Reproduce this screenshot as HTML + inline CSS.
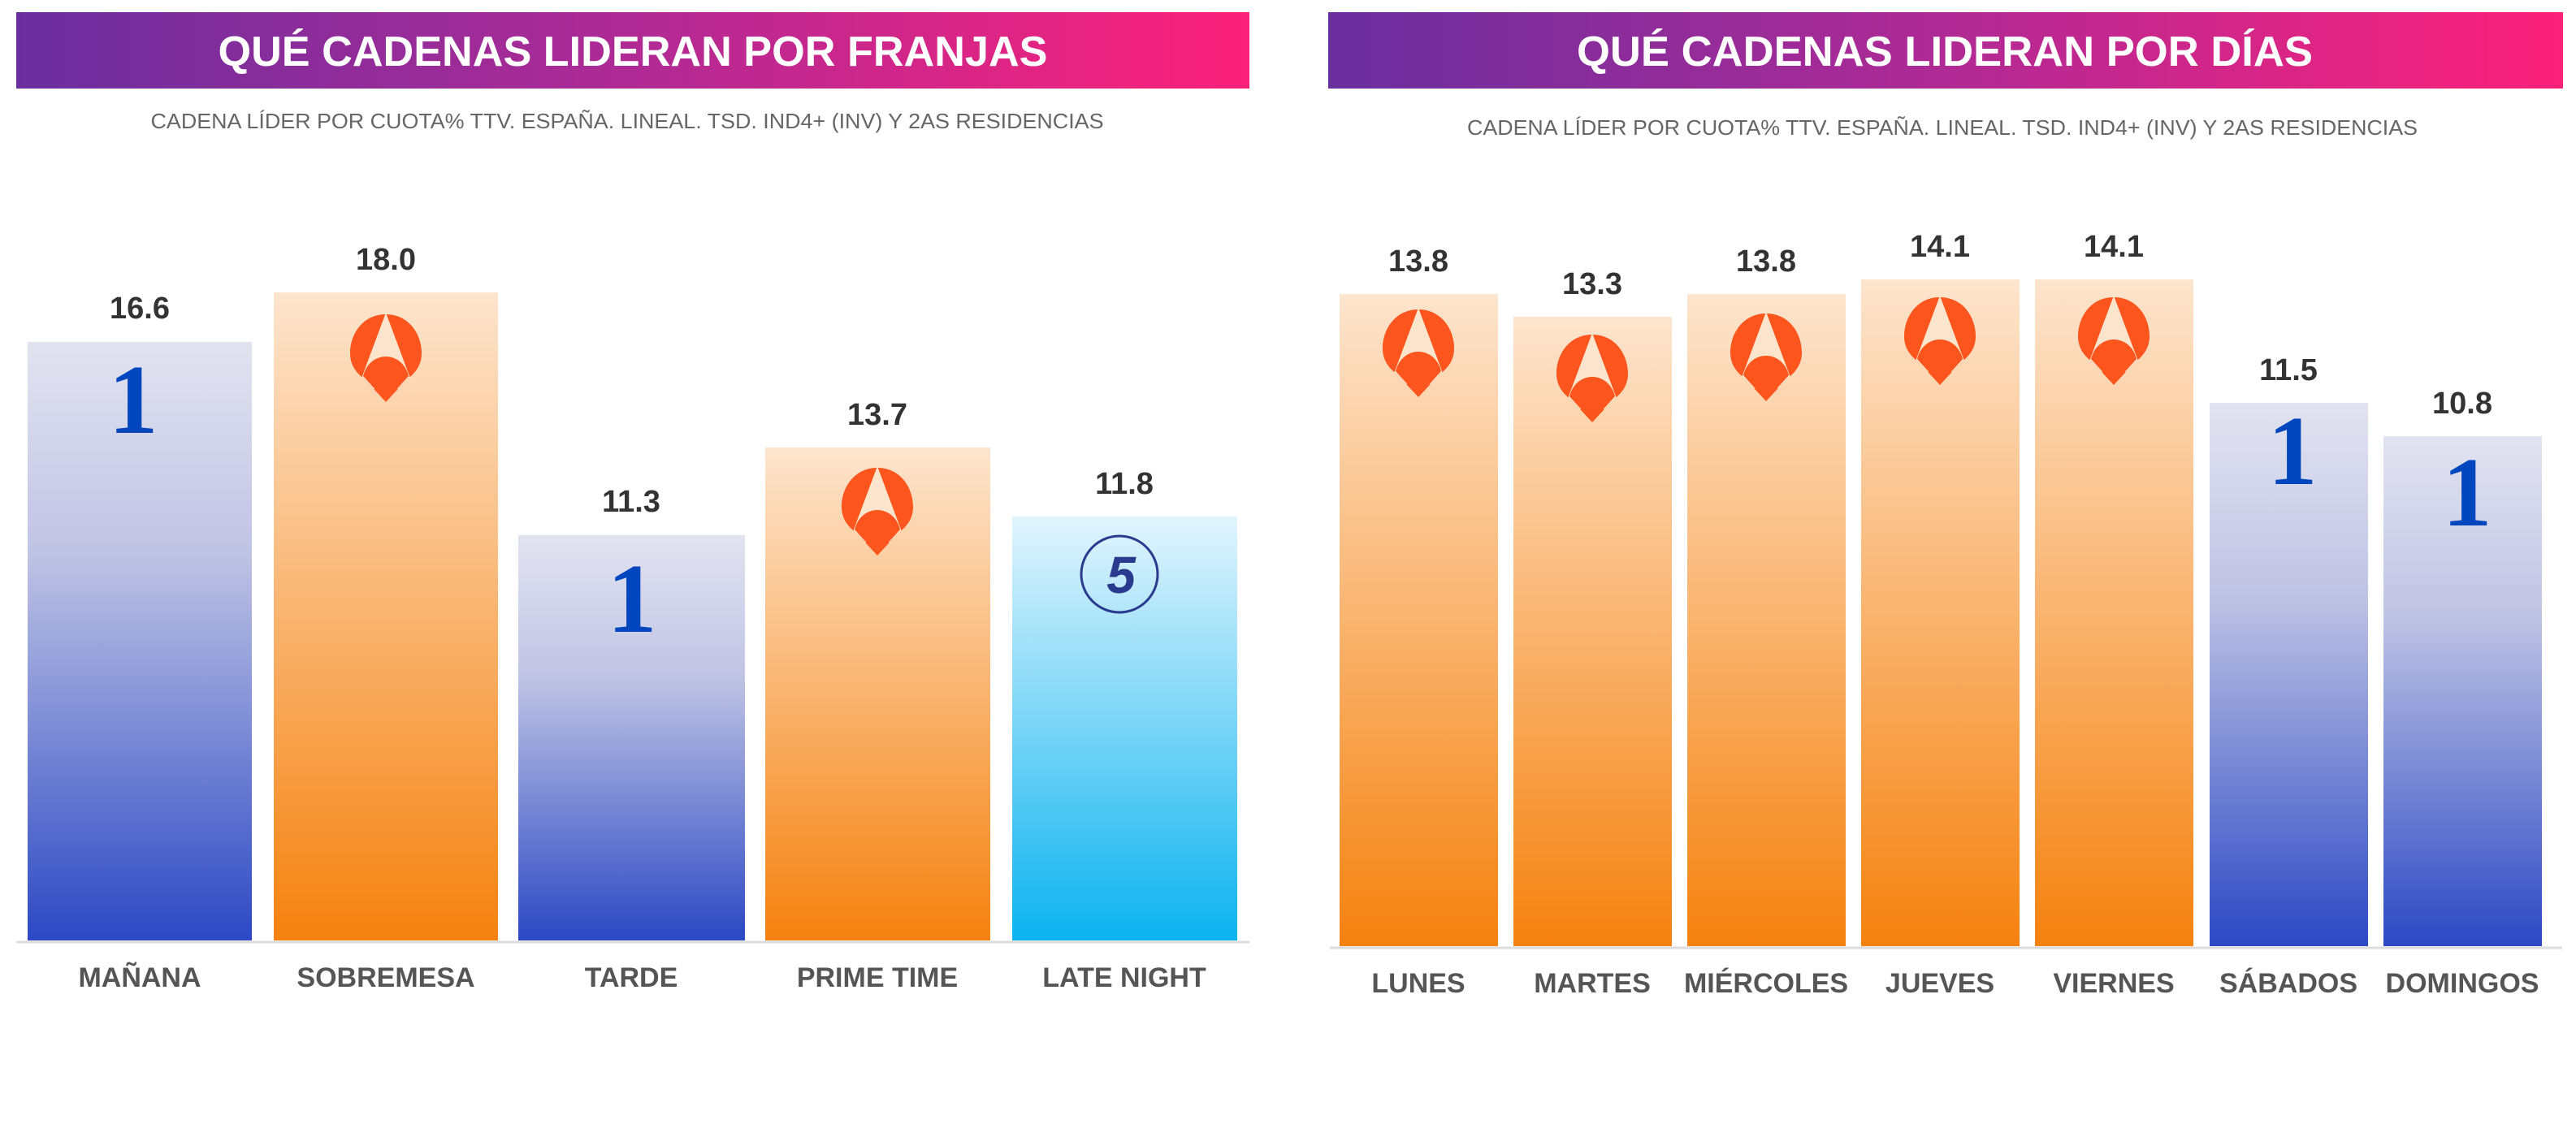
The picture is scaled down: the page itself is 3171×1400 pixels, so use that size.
<!DOCTYPE html>
<html><head><meta charset="utf-8"><style>html,body{margin:0;padding:0;background:#fff}svg{display:block}</style></head>
<body>
<svg width="3171" height="1400" viewBox="0 0 3171 1400" xmlns="http://www.w3.org/2000/svg" font-family="Liberation Sans, sans-serif">
<defs>
<linearGradient id="hdr" x1="0" x2="1" y1="0" y2="0"><stop offset="0" stop-color="#6a2f9f"/><stop offset="0.5" stop-color="#b02a95"/><stop offset="1" stop-color="#fc2179"/></linearGradient>
<linearGradient id="blue" x1="0" x2="0" y1="0" y2="1"><stop offset="0" stop-color="#e2e3f0"/><stop offset="0.35" stop-color="#c0c4e4"/><stop offset="1" stop-color="#2c48c4"/></linearGradient>
<linearGradient id="orange" x1="0" x2="0" y1="0" y2="1"><stop offset="0" stop-color="#fde5ce"/><stop offset="1" stop-color="#f5820f"/></linearGradient>
<linearGradient id="cyan" x1="0" x2="0" y1="0" y2="1"><stop offset="0" stop-color="#e2f5fd"/><stop offset="1" stop-color="#0cb3ef"/></linearGradient>
<clipPath id="dropclip"><path d="M44 0 C16 0 0 24 0 48 C0 62 7 72 18 80 L44 108 L70 80 C81 72 88 62 88 48 C88 24 72 0 44 0 Z"/></clipPath>
<g id="a3">
<path d="M44 0 C16 0 0 24 0 48 C0 62 7 72 18 80 L44 108 L70 80 C81 72 88 62 88 48 C88 24 72 0 44 0 Z" fill="#fc561e"/>
<g clip-path="url(#dropclip)">
<polygon points="44,-2 9,92 79,92" fill="#fde4cc"/>
</g>
<path d="M16 76 C24 44 64 44 72 76 L44 107 Z" fill="#fc561e"/>
</g>
</defs>

<!-- LEFT PANEL -->
<rect x="20" y="15" width="1518" height="94" fill="url(#hdr)"/>
<text x="779" y="81" text-anchor="middle" font-size="52" font-weight="bold" fill="#fff" textLength="1021" lengthAdjust="spacingAndGlyphs">QUÉ CADENAS LIDERAN POR FRANJAS</text>
<text x="772" y="158" text-anchor="middle" font-size="26" fill="#666" textLength="1173" lengthAdjust="spacingAndGlyphs">CADENA LÍDER POR CUOTA% TTV. ESPAÑA. LINEAL. TSD. IND4+ (INV) Y 2AS RESIDENCIAS</text>

<rect x="34" y="421" width="276" height="737" fill="url(#blue)"/>
<rect x="337" y="360" width="276" height="798" fill="url(#orange)"/>
<rect x="638" y="659" width="279" height="499" fill="url(#blue)"/>
<rect x="942" y="551" width="277" height="607" fill="url(#orange)"/>
<rect x="1246" y="636" width="277" height="522" fill="url(#cyan)"/>
<line x1="20" y1="1160" x2="1538" y2="1160" stroke="#dcdcdc" stroke-width="3"/>

<g font-size="38" font-weight="bold" fill="#333" text-anchor="middle">
<text x="172" y="392">16.6</text>
<text x="475" y="332">18.0</text>
<text x="777" y="630">11.3</text>
<text x="1080" y="523">13.7</text>
<text x="1384" y="608">11.8</text>
</g>
<g font-family="Liberation Serif, serif" font-size="122" font-weight="bold" fill="#0047bf" text-anchor="middle">
<text x="164" y="533">1</text>
<text x="778" y="778">1</text>
</g>
<use href="#a3" x="431" y="387"/>
<use href="#a3" x="1036" y="576"/>
<circle cx="1378" cy="707" r="47" fill="none" stroke="#2a3a8f" stroke-width="3"/>
<text x="1380" y="730" text-anchor="middle" font-size="64" font-weight="bold" font-style="italic" fill="#2a3a8f">5</text>

<g font-size="34" font-weight="bold" fill="#555" text-anchor="middle">
<text x="172" y="1215">MAÑANA</text>
<text x="475" y="1215">SOBREMESA</text>
<text x="777" y="1215">TARDE</text>
<text x="1080" y="1215">PRIME TIME</text>
<text x="1384" y="1215">LATE NIGHT</text>
</g>

<!-- RIGHT PANEL -->
<rect x="1635" y="15" width="1520" height="94" fill="url(#hdr)"/>
<text x="2394" y="81" text-anchor="middle" font-size="52" font-weight="bold" fill="#fff" textLength="906" lengthAdjust="spacingAndGlyphs">QUÉ CADENAS LIDERAN POR DÍAS</text>
<text x="2391" y="166" text-anchor="middle" font-size="26" fill="#666" textLength="1170" lengthAdjust="spacingAndGlyphs">CADENA LÍDER POR CUOTA% TTV. ESPAÑA. LINEAL. TSD. IND4+ (INV) Y 2AS RESIDENCIAS</text>

<rect x="1649" y="362" width="195" height="803" fill="url(#orange)"/>
<rect x="1863" y="390" width="195" height="775" fill="url(#orange)"/>
<rect x="2077" y="362" width="195" height="803" fill="url(#orange)"/>
<rect x="2291" y="344" width="195" height="821" fill="url(#orange)"/>
<rect x="2505" y="344" width="195" height="821" fill="url(#orange)"/>
<rect x="2720" y="496" width="195" height="669" fill="url(#blue)"/>
<rect x="2934" y="537" width="195" height="628" fill="url(#blue)"/>
<line x1="1637" y1="1167" x2="3154" y2="1167" stroke="#dcdcdc" stroke-width="3"/>

<g font-size="38" font-weight="bold" fill="#333" text-anchor="middle">
<text x="1746" y="334">13.8</text>
<text x="1960" y="362">13.3</text>
<text x="2174" y="334">13.8</text>
<text x="2388" y="316">14.1</text>
<text x="2602" y="316">14.1</text>
<text x="2817" y="468">11.5</text>
<text x="3031" y="509">10.8</text>
</g>
<use href="#a3" x="1702" y="381"/>
<use href="#a3" x="1916" y="412"/>
<use href="#a3" x="2130" y="386"/>
<use href="#a3" x="2344" y="366"/>
<use href="#a3" x="2558" y="366"/>
<g font-family="Liberation Serif, serif" font-size="122" font-weight="bold" fill="#0047bf" text-anchor="middle">
<text x="2822" y="596">1</text>
<text x="3037" y="647">1</text>
</g>

<g font-size="34" font-weight="bold" fill="#555" text-anchor="middle">
<text x="1746" y="1222">LUNES</text>
<text x="1960" y="1222">MARTES</text>
<text x="2174" y="1222">MIÉRCOLES</text>
<text x="2388" y="1222">JUEVES</text>
<text x="2602" y="1222">VIERNES</text>
<text x="2817" y="1222">SÁBADOS</text>
<text x="3031" y="1222">DOMINGOS</text>
</g>
</svg>
</body></html>
